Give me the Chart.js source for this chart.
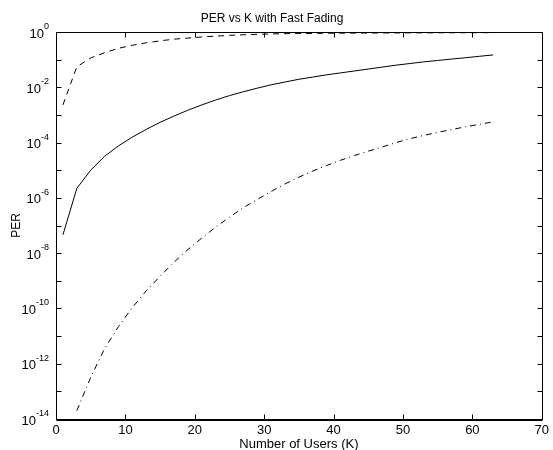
<!DOCTYPE html>
<html>
<head>
<meta charset="utf-8">
<script src="https://cdn.jsdelivr.net/npm/chart.js@4.4.0/dist/chart.umd.min.js"></script>
<style>
  html, body { margin: 0; padding: 0; background: #fff; }
  #wrap { width: 553px; height: 450px; }
</style>
</head>
<body>
<div id="wrap"><canvas id="c" width="553" height="450"></canvas></div>
<script>
// ---- data ----
const kValues = [1,3,5,7,9,11,13,15,17,19,21,23,25,27,29,31,33,35,37,39,41,43,45,47,49,51,53,55,57,59,61,63];

const perDashed = [2.3e-3,0.055,0.115,0.178,0.257,0.331,0.407,0.479,0.55,0.603,0.661,0.708,0.759,0.794,0.822,0.851,
                   0.871,0.881,0.891,0.902,0.908,0.912,0.918,0.923,0.927,0.931,0.933,0.938,0.94,0.942,0.944,0.946];

const perSolid = [4.6e-8,2.2e-6,1.0e-5,3.2e-5,7.6e-5,1.58e-4,3.0e-4,5.4e-4,9.1e-4,1.48e-3,2.3e-3,3.47e-3,5.0e-3,6.9e-3,9.3e-3,1.23e-2,
                  1.55e-2,1.95e-2,2.34e-2,2.82e-2,3.31e-2,3.89e-2,4.57e-2,5.37e-2,6.31e-2,7.24e-2,8.32e-2,9.33e-2,0.105,0.117,0.132,0.148];

const perDashDot = [null,2.0e-14,3.2e-13,3.5e-12,2.2e-11,1.07e-10,4.3e-10,1.45e-9,4.7e-9,1.35e-8,3.5e-8,8.7e-8,2.0e-7,4.4e-7,8.7e-7,1.7e-6,
                    3.2e-6,5.6e-6,9.3e-6,1.48e-5,2.29e-5,3.39e-5,4.9e-5,6.9e-5,1.0e-4,1.38e-4,1.82e-4,2.34e-4,2.95e-4,3.72e-4,4.57e-4,5.6e-4];

const xTickValues = [0,10,20,30,40,50,60,70];
const xTickLabels = ['0','10','20','30','40','50','60','70'];
const yTickValues = [1e-14,1e-12,1e-10,1e-8,1e-6,1e-4,1e-2,1e0];
const yTickBase = '10';
const yTickExponents = ['-14','-12','-10','-8','-6','-4','-2','0'];
const yMarkValues = [1e-14,1e-13,1e-12,1e-11,1e-10,1e-9,1e-8,1e-7,1e-6,1e-5,1e-4,1e-3,1e-2,1e-1,1e0];

const titleText = 'PER vs K with Fast Fading';
const xTitle = 'Number of Users (K)';
const yTitle = 'PER';

// ---- chart ----
const FONT = '"Liberation Sans", Arial, Helvetica, sans-serif';
const toPts = arr => kValues.map((k, i) => ({ x: k, y: arr[i] }));

const frameTicks = {
  id: 'frameTicks',
  afterDatasetsDraw(chart) {
    const { ctx, chartArea: a, scales: { x, y } } = chart;
    ctx.save();
    ctx.strokeStyle = '#000';
    ctx.lineWidth = 1;
    ctx.beginPath();
    const L = Math.round(a.left) + 0.5, R = Math.round(a.right) + 0.5;
    const T = Math.round(a.top) + 0.5, B = Math.round(a.bottom) + 0.5;
    ctx.rect(L, T, R - L, B - T);
    const len = 5;
    yMarkValues.forEach(v => {
      const py = Math.round(y.getPixelForValue(v)) + 0.5;
      ctx.moveTo(L, py); ctx.lineTo(L + len, py);
      ctx.moveTo(R, py); ctx.lineTo(R - len, py);
    });
    xTickValues.forEach(v => {
      const px = Math.round(x.getPixelForValue(v)) + 0.5;
      ctx.moveTo(px, B); ctx.lineTo(px, B - len);
      ctx.moveTo(px, T); ctx.lineTo(px, T + len);
    });
    ctx.stroke();
    ctx.beginPath();
    ctx.moveTo(L, B + 1); ctx.lineTo(R, B + 1);
    ctx.stroke();

    // y tick labels: "10" with superscript exponent, placed by the y scale
    ctx.fillStyle = '#000';
    ctx.textAlign = 'right';
    ctx.textBaseline = 'alphabetic';
    const rightEdge = a.left - 7;
    yTickValues.forEach((v, i) => {
      const py = y.getPixelForValue(v);
      ctx.font = '9px ' + FONT;
      const ew = ctx.measureText(yTickExponents[i]).width;
      ctx.fillText(yTickExponents[i], rightEdge, py - 3);
      ctx.font = '13px ' + FONT;
      ctx.fillText(yTickBase, rightEdge - ew, py + 5.5);
    });
    ctx.restore();
  }
};

new Chart(document.getElementById('c'), {
  type: 'line',
  data: {
    datasets: [
      { label: 'dashed', data: toPts(perDashed), borderColor: '#000', borderWidth: 1, borderDash: [6, 5], pointRadius: 0, tension: 0, fill: false },
      { label: 'solid', data: toPts(perSolid), borderColor: '#000', borderWidth: 1, pointRadius: 0, tension: 0, fill: false },
      { label: 'dashdot', data: toPts(perDashDot), borderColor: '#000', borderWidth: 1, borderDash: [6, 4, 1, 4], pointRadius: 0, tension: 0, fill: false }
    ]
  },
  options: {
    responsive: false,
    animation: false,
    devicePixelRatio: 1,
    layout: { padding: { left: 0, right: 9, top: 0, bottom: 0 } },
    plugins: {
      legend: { display: false },
      tooltip: { enabled: false },
      title: {
        display: true, text: titleText, color: '#000',
        font: { family: FONT, size: 12, weight: 'normal', lineHeight: 1.2 },
        padding: { top: 11, bottom: 6.6 }
      }
    },
    scales: {
      x: {
        type: 'linear', min: 0, max: 70,
        afterBuildTicks: s => { s.ticks = xTickValues.map(v => ({ value: v })); },
        afterFit: s => { s.height = 31; },
        grid: { display: false, drawTicks: false },
        border: { display: false },
        ticks: { color: '#000', padding: 4, maxRotation: 0, autoSkip: false,
                 font: { family: FONT, size: 13 },
                 callback: (v, i) => xTickLabels[i] },
        title: { display: true, text: xTitle, color: '#000',
                 font: { family: FONT, size: 13, lineHeight: 0.8 }, padding: { top: 0, bottom: 0 } }
      },
      y: {
        type: 'logarithmic', min: 1e-14, max: 1,
        afterBuildTicks: s => { s.ticks = yTickValues.map(v => ({ value: v })); },
        afterFit: s => { s.width = 56; },
        grid: { display: false, drawTicks: false },
        border: { display: false },
        ticks: { display: false },
        title: { display: true, text: yTitle, color: '#000',
                 font: { family: FONT, size: 12, lineHeight: 1 }, padding: { top: 11, bottom: 0 } }
      }
    }
  },
  plugins: [frameTicks]
});
</script>
</body>
</html>
